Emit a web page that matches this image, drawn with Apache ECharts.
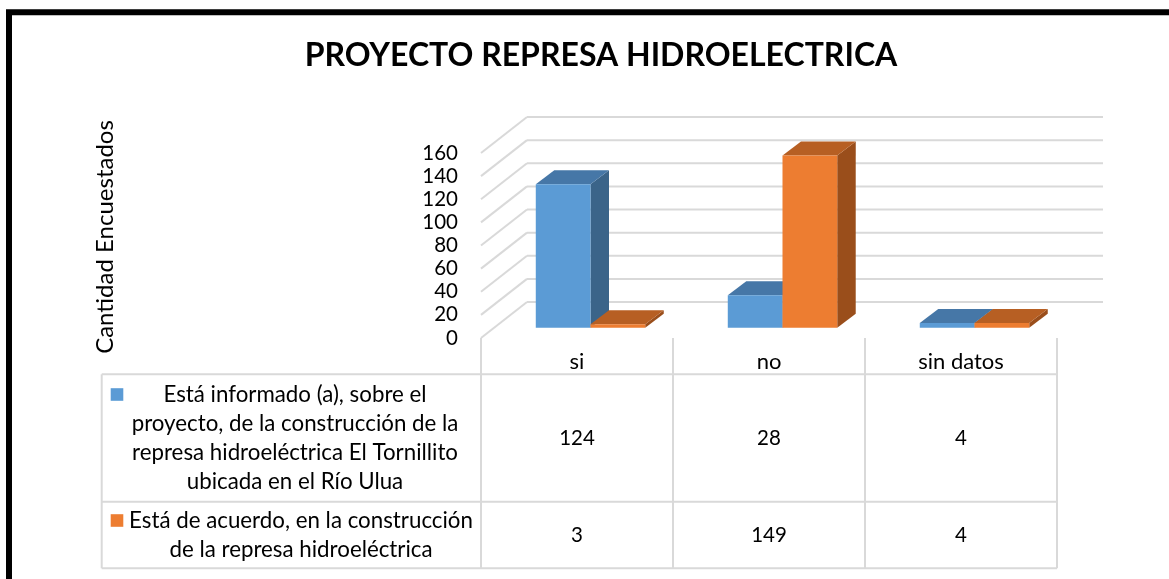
<!DOCTYPE html>
<html><head><meta charset="utf-8">
<script src="https://cdn.jsdelivr.net/npm/echarts@6/dist/echarts.min.js"></script>
<style>html,body{margin:0;padding:0;background:#fff}#c{width:1169px;height:579px}</style>
</head><body><div id="c"></div>
<script>
const chartTitle = 'PROYECTO REPRESA HIDROELECTRICA';
const yAxisTitle = 'Cantidad Encuestados';
const categories = ['si', 'no', 'sin datos'];
const seriesNames = [
  'Está informado (a), sobre el proyecto, de la construcción de la represa hidroeléctrica El Tornillito ubicada en el Río Ulua',
  'Está de acuerdo, en la construcción de la represa hidroeléctrica'
];
const seriesLabelLines = [
  ['Está informado (a), sobre el', 'proyecto, de la construcción de la', 'represa hidroeléctrica El Tornillito', 'ubicada en el Río Ulua'],
  ['Está de acuerdo, en la construcción', 'de la represa hidroeléctrica']
];
const informado = [124, 28, 4];
const deAcuerdo = [3, 149, 4];
const yTicks = [0, 20, 40, 60, 80, 100, 120, 140, 160];

const FONT = 'Lato, "Open Sans", sans-serif';
const palette = [
  { front: '#5b9bd5', top: '#4677a7', side: '#3b6489' },
  { front: '#ed7d31', top: '#b75f23', side: '#9a4e1b' }
];
const GRID_COLOR = '#d9d9d9';
const WALL_DX = 46, WALL_DY = -36;   // depth of the back wall
const FRONT_DX = 13.5, FRONT_DY = -10.3; // bar front face offset
const BAR_DX = 18.5, BAR_DY = -14;   // bar depth
const BAR_FRAC = 0.285;

function wallRender(params, api) {
  const v = api.value(1);
  const band = api.size([1, 0])[0];
  const c = api.coord([0, v]);
  const left = c[0] - band / 2;
  const right = left + band * categories.length;
  const st = { stroke: GRID_COLOR, lineWidth: 2 };
  return {
    type: 'group',
    children: [
      { type: 'line', shape: { x1: left, y1: c[1], x2: left + WALL_DX, y2: c[1] + WALL_DY }, style: st },
      { type: 'line', shape: { x1: left + WALL_DX, y1: c[1] + WALL_DY, x2: right + WALL_DX, y2: c[1] + WALL_DY }, style: st }
    ]
  };
}

function barRender(sIdx) {
  return function (params, api) {
    const cat = api.value(0), v = api.value(1);
    const band = api.size([1, 0])[0];
    const c = api.coord([cat, v]);
    const base = api.coord([cat, 0]);
    const w = band * BAR_FRAC;
    const x0 = c[0] + FRONT_DX - w + sIdx * w;
    const yTop = c[1] + FRONT_DY;
    const yBot = base[1] + FRONT_DY;
    const col = palette[sIdx];
    return {
      type: 'group',
      children: [
        { type: 'polygon', shape: { points: [[x0 + w, yTop], [x0 + w + BAR_DX, yTop + BAR_DY], [x0 + w + BAR_DX, yBot + BAR_DY], [x0 + w, yBot]] }, style: { fill: col.side } },
        { type: 'polygon', shape: { points: [[x0, yTop], [x0 + BAR_DX, yTop + BAR_DY], [x0 + w + BAR_DX, yTop + BAR_DY], [x0 + w, yTop]] }, style: { fill: col.top } },
        { type: 'rect', shape: { x: x0, y: yTop, width: w, height: yBot - yTop }, style: { fill: col.front } }
      ]
    };
  };
}

const seriesValues = [informado, deAcuerdo];

const option = {
  animation: false,
  backgroundColor: '#fff',
  title: {
    text: chartTitle, left: 596, textAlign: 'center', top: 35,
    textStyle: { fontFamily: FONT, fontWeight: 'bold', fontSize: 32, color: '#000' }
  },
  grid: { left: 481, right: 112, top: 153, bottom: 241 },
  xAxis: {
    type: 'category', data: categories,
    axisLine: { show: false }, axisTick: { show: false }, splitLine: { show: false },
    axisLabel: { fontFamily: FONT, fontSize: 22, color: '#000', margin: 11, lineHeight: 26 }
  },
  yAxis: {
    type: 'value', min: 0, max: 160, interval: 20,
    axisLine: { show: false }, axisTick: { show: false }, splitLine: { show: false },
    axisLabel: { fontFamily: FONT, fontSize: 20.5, color: '#000', margin: 23 }
  },
  series: [
    { type: 'custom', name: 'wall', renderItem: wallRender, data: yTicks.map(v => [0, v]), z: 1, silent: true },
    ...seriesValues.map((vals, s) => ({
      type: 'custom', name: seriesNames[s], renderItem: barRender(s),
      data: vals.map((v, i) => [i, v]), z: 2 + s, clip: false
    }))
  ]
};

const chart = echarts.init(document.getElementById('c'));
chart.setOption(option);

// data table below the plot, aligned with the category axis
const centers = categories.map((_, i) => chart.convertToPixel({ xAxisIndex: 0 }, i));
const band = centers.length > 1 ? centers[1] - centers[0] : 192;
const tLeft = centers[0] - band / 2;
const tRight = centers[centers.length - 1] + band / 2;
const y0 = chart.convertToPixel({ yAxisIndex: 0 }, 0);
const yTop = chart.convertToPixel({ yAxisIndex: 0 }, 160);
const legendLeft = 101.7;
const rowLines = [y0 + 36.3, y0 + 163.7, y0 + 230.3];
const lineSt = { stroke: GRID_COLOR, lineWidth: 2 };
const g = [];
// frame
g.push({ type: 'rect', shape: { x: 9, y: 12.3, width: 1300, height: 700 }, style: { fill: 'none', stroke: '#000', lineWidth: 6 }, z: 100 });
// y axis title
g.push({ type: 'text', x: 105, y: (y0 + yTop) / 2 - 8.5, rotation: Math.PI / 2,
  style: { text: yAxisTitle, fontFamily: FONT, fontSize: 24, fill: '#000', align: 'center', verticalAlign: 'middle' } });
// vertical lines
for (let i = 0; i <= categories.length; i++) {
  const x = tLeft + band * i;
  g.push({ type: 'line', shape: { x1: x, y1: y0, x2: x, y2: rowLines[2] }, style: lineSt });
}
g.push({ type: 'line', shape: { x1: legendLeft, y1: rowLines[0], x2: legendLeft, y2: rowLines[2] }, style: lineSt });
rowLines.forEach(y => g.push({ type: 'line', shape: { x1: legendLeft, y1: y, x2: tRight, y2: y }, style: lineSt }));
// cells
seriesValues.forEach((vals, s) => {
  const yc = (rowLines[s] + rowLines[s + 1]) / 2;
  const lines = seriesLabelLines[s];
  const lh = 29;
  const firstY = yc - (lines.length - 1) * lh / 2;
  g.push({ type: 'rect', shape: { x: 110.7, y: firstY - 6.3, width: 12.6, height: 12.6 }, style: { fill: palette[s].front } });
  g.push({ type: 'text', x: s === 0 ? 295 : 301, y: yc, style: { text: lines.join('\n'), fontFamily: FONT, fontSize: 22.3, lineHeight: lh, fill: '#000', align: 'center', verticalAlign: 'middle' } });
  vals.forEach((v, i) => {
    g.push({ type: 'text', x: centers[i], y: yc, style: { text: String(v), fontFamily: FONT, fontSize: 20.5, fill: '#000', align: 'center', verticalAlign: 'middle' } });
  });
});
chart.setOption({ graphic: { elements: g } });
</script></body></html>
